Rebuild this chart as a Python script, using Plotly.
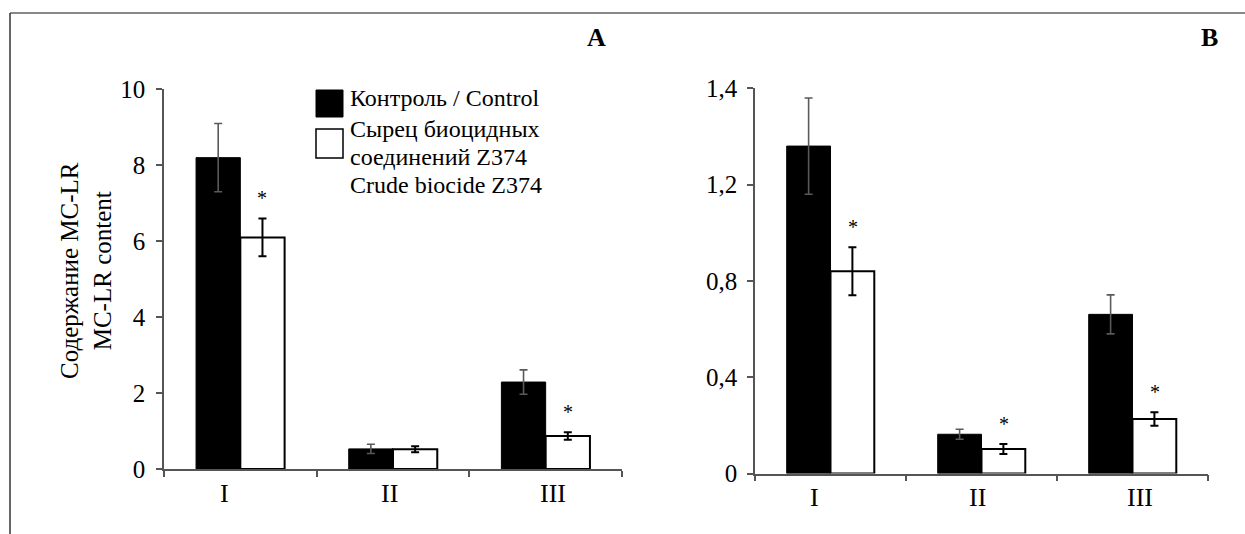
import plotly.graph_objects as go

# ---------------- data ----------------
categories = ["I", "II", "III"]
series_names = ["Контроль / Control", "Сырец биоцидных<br>соединений Z374<br>Crude biocide Z374"]

a_control = [8.2, 0.53, 2.29]
a_control_err = [0.9, 0.12, 0.32]
a_biocide = [6.1, 0.52, 0.87]
a_biocide_err = [0.5, 0.08, 0.10]
a_signif = [True, False, True]

b_control = [1.36, 0.163, 0.661]
b_control_err = [0.20, 0.021, 0.081]
b_biocide = [0.84, 0.102, 0.226]
b_biocide_err = [0.10, 0.021, 0.028]
b_signif = [True, True, True]

a_ticks = [0, 2, 4, 6, 8, 10]
a_ticktext = ["0", "2", "4", "6", "8", "10"]
b_ticks = [0, 0.4, 0.8, 1.2, 1.6]
b_ticktext = ["0", "0,4", "0,8", "1,2", "1,4"]

y_title = "Содержание MC-LR<br>MC-LR content"
panel_labels = ["A", "B"]

# ---------------- styling ----------------
W, H = 1245, 534
FONT = "Liberation Serif"
AX = "#555555"
label_shift = [-16, -4, 7]


def px(x):
    return x / W


def py(y):
    return 1 - y / H


fig = go.Figure()

for (ctrl, ctrl_e, bio, bio_e, xa, ya) in [
    (a_control, a_control_err, a_biocide, a_biocide_err, "x", "y"),
    (b_control, b_control_err, b_biocide, b_biocide_err, "x2", "y2"),
]:
    fig.add_trace(go.Bar(
        x=categories, y=ctrl, xaxis=xa, yaxis=ya, name=series_names[0],
        marker=dict(color="black", line=dict(color="black", width=1)),
        error_y=dict(type="data", array=ctrl_e, color="#5a5a5a", thickness=1.6, width=4),
        showlegend=False, offsetgroup="c",
    ))
    fig.add_trace(go.Bar(
        x=categories, y=bio, xaxis=xa, yaxis=ya, name=series_names[1],
        marker=dict(color="white", line=dict(color="black", width=2)),
        error_y=dict(type="data", array=bio_e, color="black", thickness=2, width=4),
        showlegend=False, offsetgroup="b",
    ))

annotations = []
# significance stars
for (bio, bio_e, sig, xa, ya) in [
    (a_biocide, a_biocide_err, a_signif, "x", "y"),
    (b_biocide, b_biocide_err, b_signif, "x2", "y2"),
]:
    for c, v, e, s in zip(categories, bio, bio_e, sig):
        if s:
            annotations.append(dict(
                x=c, y=v + e, xref=xa, yref=ya, text="*", showarrow=False,
                xshift=22, yanchor="bottom", yshift=7,
                font=dict(family=FONT, size=20, color="black"),
            ))

# category labels
for xa, ya in [("x", "y"), ("x2", "y2")]:
    for c, sh in zip(categories, label_shift):
        annotations.append(dict(
            x=c, y=0, xref=xa, yref=ya, text=c, showarrow=False,
            xshift=sh, yshift=-24, yanchor="middle",
            font=dict(family=FONT, size=26, color="black"),
        ))

# y-axis title
annotations.append(dict(
    x=px(86), y=py(271), xref="paper", yref="paper", text=y_title,
    textangle=-90, showarrow=False, xanchor="center", yanchor="middle",
    font=dict(family=FONT, size=25, color="black"),
))

# panel labels
for lbl, lx in zip(panel_labels, [596, 1209]):
    annotations.append(dict(x=px(lx), y=py(37), xref="paper", yref="paper",
                            text="<b>%s</b>" % lbl, showarrow=False,
                            xanchor="center", yanchor="middle",
                            font=dict(family=FONT, size=26, color="black")))

# manual legend
shapes = [
    dict(type="rect", xref="paper", yref="paper", x0=px(316), x1=px(343),
         y0=py(117), y1=py(90), fillcolor="black", line=dict(color="black", width=1)),
    dict(type="rect", xref="paper", yref="paper", x0=px(316), x1=px(343),
         y0=py(158), y1=py(129), fillcolor="white", line=dict(color="black", width=1.5)),
    # frame
    dict(type="line", xref="paper", yref="paper", x0=px(10), x1=1, y0=py(13), y1=py(13),
         line=dict(color="#888888", width=2)),
    dict(type="line", xref="paper", yref="paper", x0=px(10), x1=px(10), y0=0, y1=py(13),
         line=dict(color="#333333", width=1.5)),
]
legend_lines = [(series_names[0], 98)]
for i, ln in enumerate(series_names[1].split("<br>")):
    legend_lines.append((ln, 129 + 28 * i))
for t, yy in legend_lines:
    annotations.append(dict(
        x=px(348), y=py(yy), xref="paper", yref="paper", text=t, showarrow=False,
        xanchor="left", yanchor="middle", font=dict(family=FONT, size=24, color="black"),
    ))

axis_common = dict(showgrid=False, zeroline=False, showline=True, linecolor=AX,
                   linewidth=1.5, ticks="outside", ticklen=6, tickcolor=AX, tickwidth=1.5,
                   tickfont=dict(family=FONT, size=25, color="black"), fixedrange=True,
                   automargin=False)

fig.update_layout(
    width=W, height=H,
    margin=dict(l=0, r=0, t=0, b=0, pad=0, autoexpand=False),
    font=dict(family=FONT),
    paper_bgcolor="white", plot_bgcolor="white",
    barmode="group", bargap=0.42, bargroupgap=0,
    xaxis=dict(domain=[px(164), px(622)], anchor="y", type="category",
               tickson="boundaries", showticklabels=False, **axis_common),
    yaxis=dict(domain=[py(469), py(89.3)], anchor="x", range=[0, 10],
               tickvals=a_ticks, ticktext=a_ticktext, ticklabelstandoff=6, **axis_common),
    xaxis2=dict(domain=[px(755), px(1208)], anchor="y2", type="category",
                tickson="boundaries", showticklabels=False, **axis_common),
    yaxis2=dict(domain=[py(473.5), py(88.3)], anchor="x2", range=[0, 1.6],
                tickvals=b_ticks, ticktext=b_ticktext, ticklabelstandoff=5, **axis_common),
    annotations=annotations,
    shapes=shapes,
    showlegend=False,
)

fig.write_html("out.html", config={"displayModeBar": False},
               post_script="document.body.style.margin='0';document.body.style.overflow='hidden';")
